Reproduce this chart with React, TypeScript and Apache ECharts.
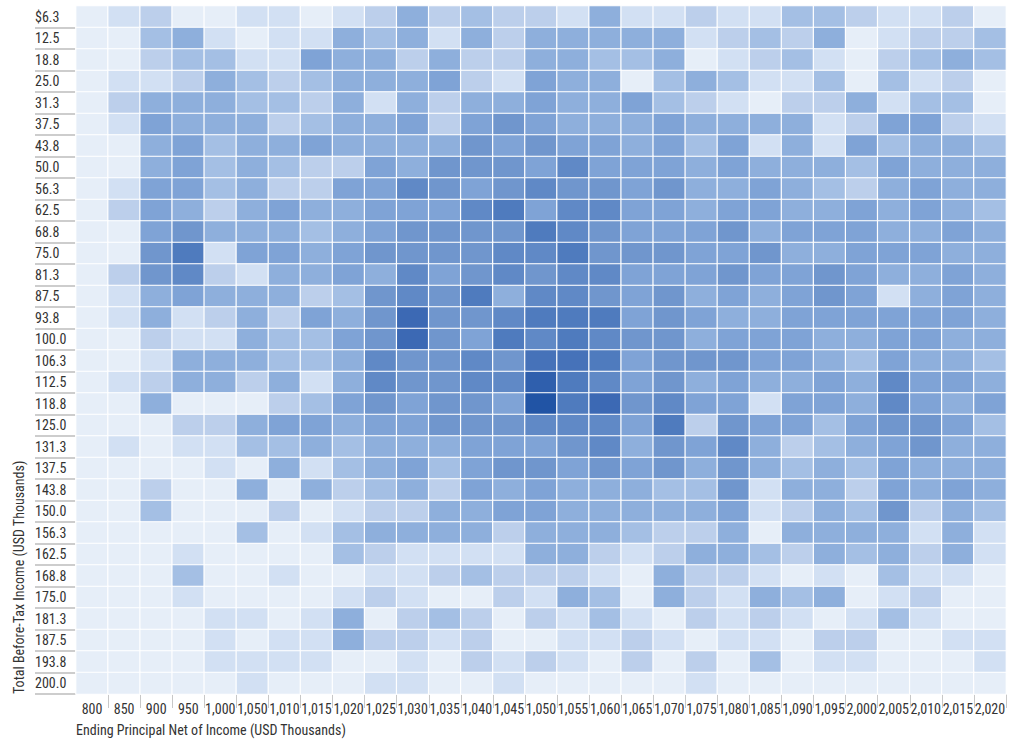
import React, { useEffect, useRef } from "react";
import * as echarts from "echarts";

// Column categories: ending principal net of income (USD thousands)
const principalLabels = [
  "800", "850", "900", "950", "1,000", "1,050", "1,010", "1,015", "1,020", "1,025",
  "1,030", "1,035", "1,040", "1,045", "1,050", "1,055", "1,060", "1,065", "1,070", "1,075",
  "1,080", "1,085", "1,090", "1,095", "2,000", "2,005", "2,010", "2,015", "2,020",
];

// Row categories: total before-tax income (USD thousands)
const incomeLabels = [
  "$6.3", "12.5", "18.8", "25.0", "31.3", "37.5", "43.8", "50.0",
  "56.3", "62.5", "68.8", "75.0", "81.3", "87.5", "93.8", "100.0",
  "106.3", "112.5", "118.8", "125.0", "131.3", "137.5", "143.8", "150.0",
  "156.3", "162.5", "168.8", "175.0", "181.3", "187.5", "193.8", "200.0",
];

// Intensity level per cell (0 = lowest, 10 = highest); one row per income band
const cellLevels: number[][] = [
  [0, 1, 2, 0, 0, 1, 1, 0, 1, 2, 4, 2, 3, 2, 2, 1, 4, 1, 1, 2, 1, 1, 3, 3, 2, 1, 1, 2, 0],
  [0, 0, 3, 4, 1, 0, 1, 1, 4, 3, 4, 1, 4, 2, 4, 4, 4, 4, 4, 1, 2, 3, 2, 4, 0, 1, 2, 2, 3],
  [0, 0, 2, 3, 3, 1, 1, 5, 4, 4, 2, 4, 2, 2, 4, 4, 3, 3, 4, 0, 1, 2, 3, 1, 0, 2, 3, 4, 3],
  [0, 1, 1, 2, 4, 3, 2, 3, 4, 4, 4, 5, 2, 1, 5, 4, 4, 0, 3, 4, 3, 1, 1, 3, 0, 3, 1, 2, 0],
  [0, 2, 4, 4, 4, 3, 3, 2, 4, 1, 4, 2, 4, 4, 5, 4, 4, 5, 3, 2, 1, 0, 2, 2, 4, 1, 3, 3, 0],
  [0, 1, 5, 4, 4, 4, 2, 3, 4, 4, 5, 2, 5, 6, 5, 4, 4, 4, 5, 4, 4, 4, 4, 1, 2, 5, 5, 2, 1],
  [0, 0, 4, 5, 3, 4, 4, 5, 4, 4, 4, 4, 6, 5, 6, 5, 5, 4, 5, 3, 5, 1, 4, 1, 5, 3, 4, 4, 3],
  [0, 0, 4, 5, 3, 4, 3, 2, 2, 5, 4, 6, 6, 6, 5, 7, 5, 5, 5, 4, 5, 4, 4, 4, 3, 5, 4, 4, 4],
  [0, 1, 5, 5, 3, 4, 2, 2, 5, 5, 7, 6, 5, 6, 7, 6, 6, 5, 6, 4, 4, 5, 4, 3, 2, 4, 5, 4, 4],
  [0, 2, 5, 4, 2, 4, 5, 4, 4, 5, 5, 5, 7, 8, 5, 7, 7, 5, 5, 4, 5, 5, 4, 4, 5, 4, 5, 4, 3],
  [0, 0, 5, 6, 4, 4, 4, 3, 4, 5, 6, 6, 6, 6, 8, 7, 6, 5, 5, 5, 6, 4, 5, 5, 5, 4, 4, 5, 4],
  [0, 0, 6, 8, 1, 5, 5, 4, 5, 6, 6, 6, 6, 7, 7, 8, 6, 6, 6, 5, 5, 6, 4, 4, 5, 5, 5, 4, 4],
  [0, 2, 6, 7, 2, 1, 4, 4, 5, 4, 7, 5, 6, 7, 6, 7, 7, 5, 5, 5, 6, 5, 5, 6, 5, 4, 4, 5, 4],
  [0, 1, 4, 5, 4, 4, 4, 2, 3, 6, 7, 6, 8, 4, 7, 7, 6, 5, 6, 4, 5, 4, 5, 6, 5, 1, 4, 5, 4],
  [0, 1, 4, 1, 2, 4, 2, 5, 4, 6, 9, 6, 6, 7, 8, 8, 8, 5, 6, 5, 4, 4, 5, 5, 5, 5, 5, 5, 4],
  [0, 0, 2, 1, 1, 4, 3, 3, 5, 6, 9, 6, 5, 8, 7, 8, 7, 6, 6, 4, 5, 5, 5, 4, 4, 5, 5, 4, 4],
  [0, 0, 1, 4, 4, 4, 3, 3, 4, 7, 6, 6, 7, 6, 8.5, 8.5, 8, 5, 6, 6, 6, 5, 5, 4, 3, 5, 4, 4, 3],
  [0, 1, 2, 4, 4, 2, 4, 1, 4, 7, 6, 6, 7, 7, 9.5, 8, 7, 5, 6, 4, 5, 4, 4, 5, 4, 7, 5, 5, 4],
  [0, 0, 4, 0, 0, 0, 2, 3, 5, 6, 5, 6, 6, 5, 10, 8, 9, 6, 7, 5, 5, 1, 5, 5, 4, 7, 5, 4, 5],
  [0, 0, 0, 2, 2, 4, 5, 5, 4, 5, 5, 6, 6, 6, 7, 7, 7, 5, 8, 2, 6, 5, 5, 3, 5, 6, 6, 5, 3],
  [0, 1, 0, 1, 1, 3, 3, 4, 3, 4, 4, 4, 5, 5, 5, 6, 7, 4, 6, 5, 7, 4, 2, 3, 4, 5, 6, 4, 4],
  [0, 0, 0, 0, 1, 0, 4, 1, 3, 4, 5, 3, 5, 6, 6, 5, 6, 5, 6, 4, 6, 4, 3, 4, 3, 5, 4, 4, 4],
  [0, 0, 2, 0, 0, 4, 0, 4, 2, 3, 4, 2, 5, 4, 5, 4, 4, 4, 3, 3, 6, 1, 4, 4, 2, 5, 4, 5, 4],
  [0, 0, 3, 0, 0, 0, 2, 0, 1, 2, 2, 4, 4, 5, 5, 4, 4, 4, 4, 4, 5, 1, 2, 4, 3, 6, 2, 4, 3],
  [0, 0, 0, 0, 0, 3, 0, 1, 3, 4, 4, 4, 4, 2, 4, 4, 4, 3, 2, 2, 4, 0, 4, 4, 4, 4, 1, 4, 1],
  [0, 0, 0, 1, 0, 0, 0, 0, 3, 2, 1, 1, 1, 1, 4, 4, 2, 1, 2, 4, 4, 3, 2, 4, 3, 4, 2, 4, 1],
  [0, 0, 0, 3, 0, 0, 1, 0, 0, 1, 1, 2, 3, 2, 2, 2, 1, 0, 4, 2, 2, 1, 0, 1, 0, 3, 1, 1, 0],
  [0, 0, 0, 1, 0, 0, 0, 0, 1, 2, 1, 0, 0, 2, 1, 4, 3, 0, 4, 2, 1, 4, 3, 4, 0, 1, 2, 0, 0],
  [0, 0, 0, 0, 1, 1, 0, 1, 4, 0, 2, 3, 2, 0, 2, 1, 3, 1, 0, 2, 1, 2, 1, 0, 1, 3, 1, 0, 0],
  [0, 0, 0, 0, 1, 0, 1, 1, 4, 2, 2, 1, 2, 0, 0, 1, 1, 2, 1, 0, 1, 1, 0, 2, 2, 0, 0, 1, 1],
  [0, 0, 0, 0, 1, 1, 1, 1, 0, 0, 1, 0, 2, 1, 2, 1, 0, 2, 0, 2, 0, 3, 0, 1, 1, 0, 0, 0, 1],
  [0, 0, 0, 0, 0, 1, 0, 0, 0, 1, 1, 0, 0, 1, 0, 0, 0, 0, 0, 1, 0, 0, 0, 0, 0, 0, 0, 0, 0],
];

// Blue ramp from the lightest to the darkest level
const levelColors = [
  "#e6eef8", "#d2e0f3", "#bccfeb", "#a4bfe4", "#8eafdc", "#7fa3d6",
  "#7096cd", "#6089c6", "#4f7bbe", "#3c69b4", "#2154a5",
];

const FONT =
  '"Roboto Condensed", "Liberation Sans Narrow", "Arial Narrow", "DejaVu Sans Condensed", sans-serif';

export default function App() {
  const ref = useRef<HTMLDivElement>(null);

  useEffect(() => {
    if (!ref.current) return;
    const chart = echarts.init(ref.current, undefined, { renderer: "svg" });

    const data: number[][] = [];
    cellLevels.forEach((row, yi) => {
      row.forEach((v, xi) => data.push([xi, yi, v]));
    });

    chart.setOption({
      animation: false,
      backgroundColor: "#ffffff",
      grid: { left: 76, right: 13, top: 6, bottom: 46 },
      xAxis: {
        type: "category",
        data: principalLabels,
        position: "bottom",
        axisLine: { show: false },
        axisTick: {
          show: true,
          length: 14,
          interval: (index: number) => index !== 0,
          lineStyle: { color: "#c8c8c8", width: 1 },
        },
        axisLabel: {
          interval: 0,
          margin: 8,
          color: "#333333",
          fontFamily: FONT,
          fontSize: 14,
        },
        splitLine: { show: false },
      },
      yAxis: {
        type: "category",
        data: incomeLabels,
        inverse: true,
        axisLine: { show: false },
        axisTick: {
          show: true,
          length: 41,
          interval: (index: number) => index !== 0,
          lineStyle: { color: "#bdbdbd", width: 1.5 },
        },
        axisLabel: {
          interval: 0,
          align: "left",
          margin: 41,
          color: "#333333",
          fontFamily: FONT,
          fontSize: 14,
        },
        splitLine: { show: false },
      },
      visualMap: {
        show: false,
        type: "continuous",
        min: 0,
        max: 10,
        dimension: 2,
        inRange: { color: levelColors },
      },
      series: [
        {
          type: "heatmap",
          data,
          itemStyle: { borderColor: "#ffffff", borderWidth: 1.2 },
          emphasis: { disabled: true },
        },
      ],
      graphic: [
        {
          type: "text",
          left: 76,
          top: 723,
          style: {
            text: "Ending Principal Net of Income (USD Thousands)",
            fill: "#333333",
            fontFamily: FONT,
            fontSize: 14,
          },
        },
        {
          type: "text",
          x: 19,
          y: 694,
          rotation: Math.PI / 2,
          style: {
            text: "Total Before-Tax Income (USD Thousands)",
            fill: "#333333",
            fontFamily: FONT,
            fontSize: 14,
            textAlign: "left",
            textVerticalAlign: "middle",
          },
        },
      ],
    });

    return () => chart.dispose();
  }, []);

  return (
    <div
      ref={ref}
      style={{ position: "fixed", left: 0, top: 0, width: 1019, height: 740 }}
    />
  );
}
